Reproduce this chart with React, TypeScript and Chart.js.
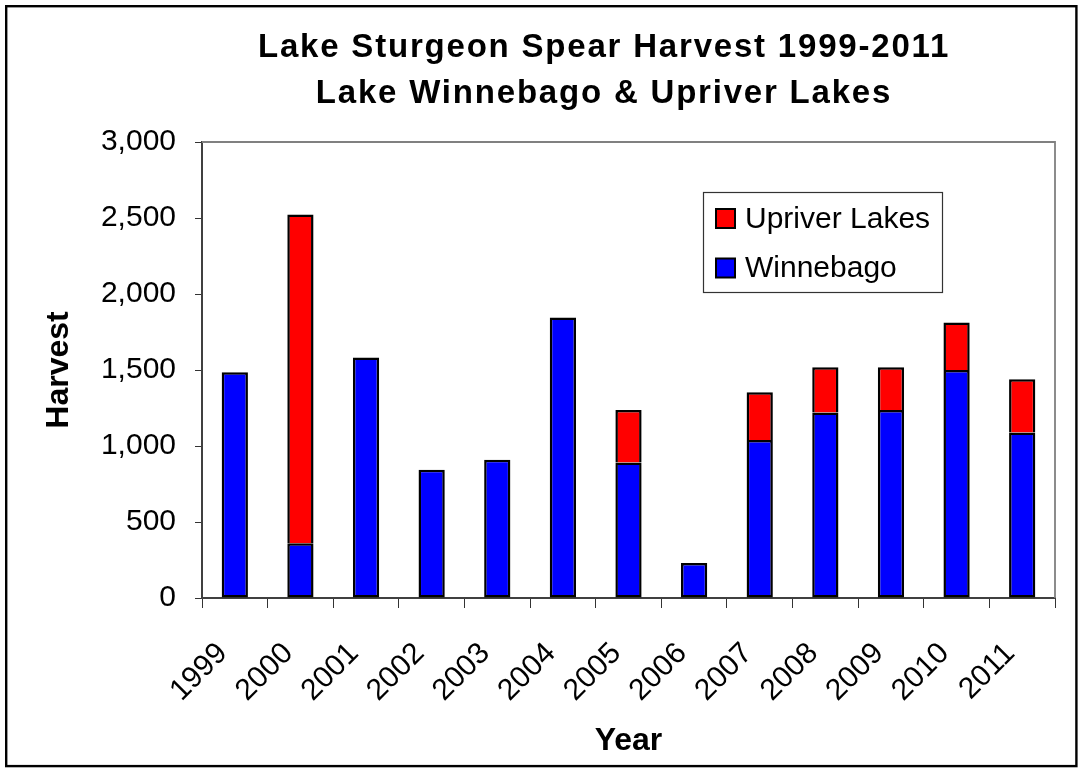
import React, { useEffect, useRef } from 'react';
import { Chart, registerables } from 'chart.js';

Chart.register(...registerables);

const years = ['1999', '2000', '2001', '2002', '2003', '2004', '2005', '2006', '2007', '2008', '2009', '2010', '2011'];
const winnebago = [1485, 361, 1583, 843, 909, 1846, 891, 230, 1040, 1220, 1237, 1500, 1088];
const upriverLakes = [0, 2162, 0, 0, 0, 0, 346, 0, 313, 298, 281, 313, 351];
const titleLines = ['Lake Sturgeon Spear Harvest 1999-2011', 'Lake Winnebago & Upriver Lakes'];
const xAxisTitle = 'Year';
const yAxisTitle = 'Harvest';
const yMin = 0;
const yMax = 3000;
const yStep = 500;

const FONT = '"Liberation Sans", Arial, sans-serif';

const backgroundPlugin = {
  id: 'bgFrame',
  beforeDraw(chart: any) {
    const { ctx, width, height } = chart;
    ctx.save();
    ctx.fillStyle = '#ffffff';
    ctx.fillRect(0, 0, width, height);
    ctx.strokeStyle = '#000000';
    ctx.lineWidth = 2.4;
    ctx.strokeRect(6.2, 6.2, width - 12.4 + 0.6, height - 12.4 + 0.3);
    ctx.restore();
  },
  beforeDatasetsDraw(chart: any) {
    const { ctx, chartArea } = chart;
    ctx.save();
    ctx.strokeStyle = '#808080';
    ctx.lineWidth = 1.8;
    ctx.beginPath();
    ctx.moveTo(chartArea.left, chartArea.top);
    ctx.lineTo(chartArea.right, chartArea.top);
    ctx.lineTo(chartArea.right, chartArea.bottom);
    ctx.stroke();
    ctx.restore();
  },
};

const titlePlugin = {
  id: 'customTitle',
  afterDraw(chart: any) {
    const { ctx } = chart;
    ctx.save();
    ctx.fillStyle = '#000000';
    ctx.font = `bold 33px ${FONT}`;
    try { (ctx as any).letterSpacing = '1.8px'; } catch (e) { /* ignore */ }
    ctx.textAlign = 'center';
    ctx.textBaseline = 'alphabetic';
    const cx = 604;
    const baselines = [56.7, 103.3];
    titleLines.forEach((line, i) => {
      ctx.fillText(line, cx, baselines[i]);
    });
    try { (ctx as any).letterSpacing = '0px'; } catch (e) { /* ignore */ }
    ctx.restore();
  },
};

const legendPlugin = {
  id: 'customLegend',
  afterDraw(chart: any) {
    const { ctx, chartArea } = chart;
    const boxW = 239;
    const boxH = 100;
    const x0 = chartArea.right - 113 - boxW;
    const y0 = chartArea.top + 50;
    ctx.save();
    ctx.fillStyle = '#ffffff';
    ctx.fillRect(x0, y0, boxW, boxH);
    ctx.strokeStyle = '#333333';
    ctx.lineWidth = 1.2;
    ctx.strokeRect(x0 + 0.5, y0 + 0.5, boxW, boxH);
    const items = [...chart.data.datasets].reverse();
    ctx.font = `30px ${FONT}`;
    ctx.textAlign = 'left';
    ctx.textBaseline = 'middle';
    items.forEach((ds: any, i: number) => {
      const cy = y0 + 26.5 + i * 49.5;
      const sx = x0 + 13;
      ctx.fillStyle = ds.backgroundColor;
      ctx.fillRect(sx, cy - 9.5, 19, 19);
      ctx.strokeStyle = '#000000';
      ctx.lineWidth = 2;
      ctx.strokeRect(sx, cy - 9.5, 19, 19);
      ctx.fillStyle = '#000000';
      ctx.fillText(ds.label, sx + 29, cy + 1);
    });
    ctx.restore();
  },
};

export default function App() {
  const canvasRef = useRef<HTMLCanvasElement | null>(null);

  useEffect(() => {
    document.body.style.margin = '0';
    const canvas = canvasRef.current;
    if (!canvas) return;
    const chart = new Chart(canvas, {
      type: 'bar',
      data: {
        labels: years,
        datasets: [
          {
            label: 'Winnebago',
            data: winnebago,
            backgroundColor: '#0000ff',
            borderColor: '#000000',
            borderWidth: 2.5,
            borderSkipped: false,
            categoryPercentage: 1,
            barPercentage: 0.4,
          },
          {
            label: 'Upriver Lakes',
            data: upriverLakes,
            backgroundColor: '#ff0000',
            borderColor: '#000000',
            borderWidth: 2.5,
            borderSkipped: 'bottom',
            categoryPercentage: 1,
            barPercentage: 0.4,
          },
        ],
      },
      options: {
        responsive: false,
        animation: false,
        layout: { padding: { left: 40, right: 27, top: 142, bottom: 12 } },
        plugins: {
          legend: { display: false },
          title: { display: false },
          tooltip: { enabled: false },
        },
        scales: {
          x: {
            stacked: true,
            offset: true,
            grid: {
              offset: true,
              drawOnChartArea: false,
              drawTicks: true,
              tickLength: 10,
              color: '#333333',
              lineWidth: 1,
            },
            border: { display: true, color: '#404040', width: 2 },
            ticks: {
              autoSkip: false,
              minRotation: 45,
              maxRotation: 45,
              padding: 28,
              labelOffset: -12,
              color: '#000000',
              font: { family: FONT, size: 30 },
            },
            title: {
              display: true,
              text: xAxisTitle,
              color: '#000000',
              font: { family: FONT, size: 32, weight: 'bold' },
              padding: 0,
            },
            afterFit(scale: any) {
              scale.height = 162;
            },
          },
          y: {
            stacked: true,
            min: yMin,
            max: yMax,
            grid: {
              drawOnChartArea: false,
              drawTicks: true,
              tickLength: 7,
              color: '#333333',
              lineWidth: 1,
            },
            border: { display: true, color: '#404040', width: 2 },
            ticks: {
              stepSize: yStep,
              padding: 19,
              color: '#000000',
              font: { family: FONT, size: 30 },
              callback: (v: any) => Number(v).toLocaleString('en-US'),
            },
            title: {
              display: true,
              text: yAxisTitle,
              color: '#000000',
              font: { family: FONT, size: 32, weight: 'bold' },
              padding: 0,
            },
            afterFit(scale: any) {
              scale.width = 162;
            },
          },
        },
      },
      plugins: [backgroundPlugin, titlePlugin, legendPlugin],
    } as any);
    return () => chart.destroy();
  }, []);

  return (
    <div style={{ width: 1082, height: 772, position: 'relative', background: '#ffffff' }}>
      <canvas ref={canvasRef} width={1082} height={772} style={{ display: 'block' }} />
    </div>
  );
}
